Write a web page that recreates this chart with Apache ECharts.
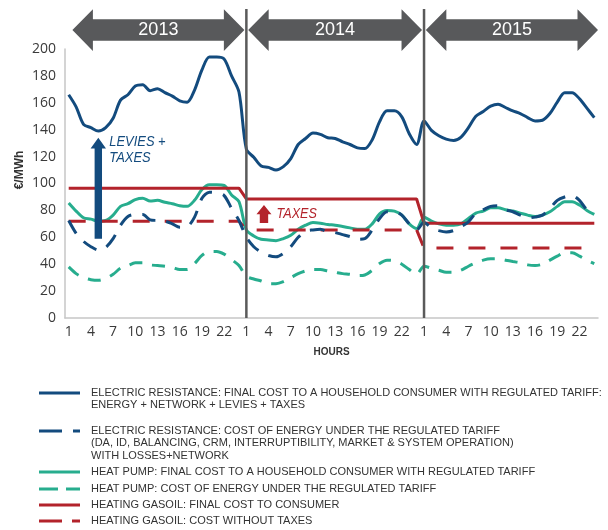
<!DOCTYPE html>
<html>
<head>
<meta charset="utf-8">
<script src="https://cdn.jsdelivr.net/npm/echarts@6/dist/echarts.min.js"></script>
<style>
  html, body { margin: 0; padding: 0; background: #fff; }
  #chart { width: 608px; height: 530px; }
</style>
</head>
<body>
<div id="chart"></div>
<script>
// categories: 24 hours for each of three years
const years = ['2013', '2014', '2015'];
const hourLabels = ['1', '2', '3', '4', '5', '6', '7', '8', '9', '10', '11', '12',
  '13', '14', '15', '16', '17', '18', '19', '20', '21', '22', '23', '24'];
const categories = [];
years.forEach(y => hourLabels.forEach(h => categories.push(y + ' ' + h)));

const seriesNames = [
  'ELECTRIC RESISTANCE: FINAL COST TO A HOUSEHOLD CONSUMER WITH REGULATED TARIFF:\nENERGY + NETWORK + LEVIES + TAXES',
  'ELECTRIC RESISTANCE: COST OF ENERGY UNDER THE REGULATED TARIFF\n(DA, ID, BALANCING, CRM, INTERRUPTIBILITY, MARKET & SYSTEM OPERATION)\nWITH LOSSES+NETWORK',
  'HEAT PUMP: FINAL COST TO A HOUSEHOLD CONSUMER WITH REGULATED TARIFF',
  'HEAT PUMP: COST OF ENERGY UNDER THE REGULATED TARIFF',
  'HEATING GASOIL: FINAL COST TO CONSUMER',
  'HEATING GASOIL: COST WITHOUT TAXES'
];

// €/MWh
const erFinal = [
  166, 157, 144, 141.5, 139, 141.5, 148.5, 162, 166, 172.5, 173.5, 169, 170.5, 167.5, 165, 161.5, 160.5, 169.5, 184.5, 194, 194, 192.5, 180, 168,
  125.5, 119.5, 113, 112, 110, 112.5, 118.5, 129, 133.5, 137.5, 136.5, 134, 133.5, 131, 129, 126.5, 126, 132.5, 146, 154, 154, 149.5, 137, 129,
  146.5, 139.5, 135.5, 133, 132, 134.5, 141.5, 150, 153.5, 157.5, 159, 156.5, 154, 152, 149, 146.5, 147, 152, 160.5, 167.5, 167.5, 163, 156, 149
];
const erEnergy = [
  72.5, 63, 57, 53, 50.5, 52.5, 59, 69, 75.5, 77, 77, 73, 72.5, 72, 70, 67.5, 68, 75, 89, 93.5, 93, 91, 81.5, 72.5,
  60, 53, 49, 46.5, 45.5, 48, 53, 60, 64.5, 65.5, 66, 64, 63.5, 62, 60.5, 58.5, 59, 65.5, 74, 79, 79, 76.5, 70, 65.5,
  71, 67, 65, 64, 65, 68, 71.5, 78, 80.5, 83, 83.5, 80.5, 79, 76.5, 74.5, 75, 76.5, 81.5, 87.5, 90, 91, 87.5, 80.5, 77
];
const hpFinal = [
  85.5, 79.5, 74.5, 73.5, 72, 72.5, 76.5, 83, 85, 88, 89, 87, 87.5, 86, 85, 83.5, 83, 87.5, 95.5, 99, 99, 98.5, 91.5, 86.5,
  65.5, 61, 58.5, 58, 57.5, 59, 61.5, 66, 69, 71, 70.5, 69.5, 69, 68, 67, 66, 66, 70, 77.5, 80, 79.5, 76.5, 70, 66.5,
  75, 72, 70, 69, 69, 70, 74, 78, 79.5, 82, 82, 80.5, 79.5, 78, 76.5, 75.5, 76.5, 79, 83, 86.5, 86.5, 84, 80, 77
];
const hpEnergy = [
  38, 33, 30, 28.5, 28, 29.5, 32.5, 37, 39, 41, 41, 39.5, 39, 38.5, 37.5, 36, 36, 40.5, 46.5, 49.5, 49.5, 47.5, 43.5, 39,
  31, 29, 27.5, 25.5, 25.5, 27, 30, 33, 35, 36, 36, 35, 34, 33, 32.5, 31.5, 32, 35.5, 40.5, 43, 42.5, 40, 36, 32.5,
  38.5, 37, 35.5, 34, 34, 35.5, 38.5, 41, 43, 44, 44, 43, 42, 41, 39.5, 39, 40, 43, 46, 48.5, 48.5, 46, 43, 40.5
];
const gasoilFinal = [
  96.5, 96.5, 96.5, 96.5, 96.5, 96.5, 96.5, 96.5, 96.5, 96.5, 96.5, 96.5, 96.5, 96.5, 96.5, 96.5, 96.5, 96.5, 96.5, 96.5, 96.5, 96.5, 96.5, 96.5,
  88.5, 88.5, 88.5, 88.5, 88.5, 88.5, 88.5, 88.5, 88.5, 88.5, 88.5, 88.5, 88.5, 88.5, 88.5, 88.5, 88.5, 88.5, 88.5, 88.5, 88.5, 88.5, 88.5, 88.5,
  70.5, 70.5, 70.5, 70.5, 70.5, 70.5, 70.5, 70.5, 70.5, 70.5, 70.5, 70.5, 70.5, 70.5, 70.5, 70.5, 70.5, 70.5, 70.5, 70.5, 70.5, 70.5, 70.5, 70.5
];
const gasoilNoTax = [
  72, 72, 72, 72, 72, 72, 72, 72, 72, 72, 72, 72, 72, 72, 72, 72, 72, 72, 72, 72, 72, 72, 72, 72,
  65.5, 65.5, 65.5, 65.5, 65.5, 65.5, 65.5, 65.5, 65.5, 65.5, 65.5, 65.5, 65.5, 65.5, 65.5, 65.5, 65.5, 65.5, 65.5, 65.5, 65.5, 65.5, 65.5, 65.5,
  52, 52, 52, 52, 52, 52, 52, 52, 52, 52, 52, 52, 52, 52, 52, 52, 52, 52, 52, 52, 52, 52, 52, 52
];

const BLUE = '#134b7e', TEAL = '#27ad8e', RED = '#b3232b', GREY = '#58595b';

const chart = echarts.init(document.getElementById('chart'));

function lineSeries(name, data, color, dash, smooth, z) {
  return {
    name: name,
    type: 'line',
    data: data,
    symbol: 'none',
    smooth: smooth,
    z: z,
    silent: true,
    lineStyle: { color: color, width: 3, type: dash || 'solid', cap: 'butt' },
    itemStyle: { color: color }
  };
}

// legend look (drawn as graphic: icons sit on the first text line)
const legendDash = [null, [23, 11], null, [19, 8], null, [23, 10]];
const legendColors = [BLUE, BLUE, TEAL, TEAL, RED, RED];
const legendY = [393, 431, 472, 489, 505, 521];

chart.setOption({
  animation: false,
  backgroundColor: '#fff',
  grid: { left: 65, right: 10, top: 49, bottom: 212 },
  xAxis: {
    type: 'category',
    data: categories,
    boundaryGap: true,
    axisLine: { lineStyle: { color: '#c6c6c6', width: 1.5 } },
    axisTick: { show: false },
    axisLabel: {
      interval: 2,
      margin: 7,
      fontSize: 14,
      fontFamily: 'Open Sans',
      color: '#3a3a3a',
      formatter: v => v.split(' ')[1]
    },
    name: 'HOURS',
    nameLocation: 'middle',
    nameGap: 29,
    nameTextStyle: { fontSize: 10, fontWeight: 'bold', color: '#333', fontFamily: 'Liberation Sans' }
  },
  yAxis: {
    type: 'value',
    min: 0,
    max: 200,
    interval: 20,
    axisLine: { show: true, lineStyle: { color: '#c6c6c6', width: 1.5 } },
    axisTick: { show: false },
    splitLine: { show: false },
    axisLabel: { margin: 9, fontSize: 14, fontFamily: 'Open Sans', color: '#3a3a3a' }
  },
  series: [
    lineSeries(seriesNames[2], hpFinal, TEAL, null, 0.3, 2),
    lineSeries(seriesNames[3], hpEnergy, TEAL, [13, 10], 0.3, 2),
    lineSeries(seriesNames[4], gasoilFinal, RED, null, false, 3),
    lineSeries(seriesNames[5], gasoilNoTax, RED, [17, 15], false, 3),
    lineSeries(seriesNames[1], erEnergy, BLUE, [15, 11], 0.3, 4),
    lineSeries(seriesNames[0], erFinal, BLUE, null, 0.3, 4)
  ]
});

function px(i) { return chart.convertToPixel({ xAxisIndex: 0 }, i); }
function py(v) { return chart.convertToPixel({ yAxisIndex: 0 }, v); }

function buildGraphics() {
  const els = [];
  const grid = chart.getModel().getComponent('grid').coordinateSystem.getRect();
  const yBottom = grid.y + grid.height;
  const sepIdx = [24, 48];

  // year arrows
  const head = 20.5, yMid = 30, yTop = 9.3, yBot = 51, bTop = 19.2, bBot = 40.8;
  years.forEach((yr, k) => {
    const x0 = k === 0 ? px(0) + 3.7 : px(sepIdx[k - 1]) + 1.8;
    const x1 = k < 2 ? px(sepIdx[k]) - 2 : grid.x + grid.width;
    els.push({
      type: 'polygon', z: 10, silent: true,
      shape: { points: [[x0, yMid], [x0 + head, yTop], [x0 + head, bTop], [x1 - head, bTop], [x1 - head, yTop],
        [x1, yMid], [x1 - head, yBot], [x1 - head, bBot], [x0 + head, bBot], [x0 + head, yBot]] },
      style: { fill: GREY }
    });
    els.push({
      type: 'text', z: 11, silent: true, x: (x0 + x1) / 2, y: yMid + 0.5,
      style: { text: yr, fill: '#fff', fontSize: 18, fontFamily: 'Liberation Sans', align: 'center', verticalAlign: 'middle' }
    });
  });

  // year separators
  sepIdx.forEach(i => {
    els.push({
      type: 'line', z: 12, silent: true,
      shape: { x1: px(i), y1: 9, x2: px(i), y2: yBottom },
      style: { stroke: '#5a5a5a', lineWidth: 2.5 }
    });
  });

  // LEVIES + TAXES arrow
  const lx = px(4), lb = py(59), lt = py(134), lh = py(126);
  els.push({
    type: 'polygon', z: 12, silent: true,
    shape: { points: [[lx - 3.7, lb], [lx - 3.7, lh], [lx - 7.7, lh], [lx, lt], [lx + 7.7, lh], [lx + 3.7, lh], [lx + 3.7, lb]] },
    style: { fill: BLUE }
  });
  els.push({
    type: 'text', z: 12, silent: true, x: lx + 11, y: py(125), scaleX: 0.86,
    style: { text: 'LEVIES +\nTAXES', fill: BLUE, fontSize: 15, fontStyle: 'italic', fontFamily: 'Liberation Sans',
      lineHeight: 16, verticalAlign: 'middle', align: 'left' }
  });

  // TAXES arrow
  const tx = px(26) + 2.8, tb = py(70.7), tt = py(84), th = py(77.2);
  els.push({
    type: 'polygon', z: 12, silent: true,
    shape: { points: [[tx - 4.2, tb], [tx - 4.2, th], [tx - 7.5, th], [tx, tt], [tx + 7.5, th], [tx + 4.2, th], [tx + 4.2, tb]] },
    style: { fill: RED }
  });
  els.push({
    type: 'text', z: 12, silent: true, x: tx + 12.5, y: py(77.5), scaleX: 0.84,
    style: { text: 'TAXES', fill: RED, fontSize: 15, fontStyle: 'italic', fontFamily: 'Liberation Sans',
      verticalAlign: 'middle', align: 'left' }
  });

  // y axis name
  els.push({
    type: 'text', z: 12, silent: true, x: 20, y: 170, rotation: Math.PI / 2,
    style: { text: '€/MWh', fill: '#333', fontSize: 12, fontWeight: 'bold', fontFamily: 'Liberation Sans',
      align: 'center', verticalAlign: 'middle' }
  });

  // legend
  seriesNames.forEach((name, k) => {
    const y = legendY[k];
    const style = { stroke: legendColors[k], lineWidth: 3 };
    if (legendDash[k]) style.lineDash = legendDash[k];
    els.push({ type: 'line', silent: true, shape: { x1: 39, y1: y, x2: 80, y2: y }, style: style });
    els.push({
      type: 'text', silent: true, x: 91, y: y - 6.5,
      style: { text: name, fill: '#333', fontSize: 11, fontFamily: 'Liberation Sans', lineHeight: 12.5,
        verticalAlign: 'top', align: 'left' }
    });
  });

  chart.setOption({ graphic: els });
}
buildGraphics();
</script>
</body>
</html>
